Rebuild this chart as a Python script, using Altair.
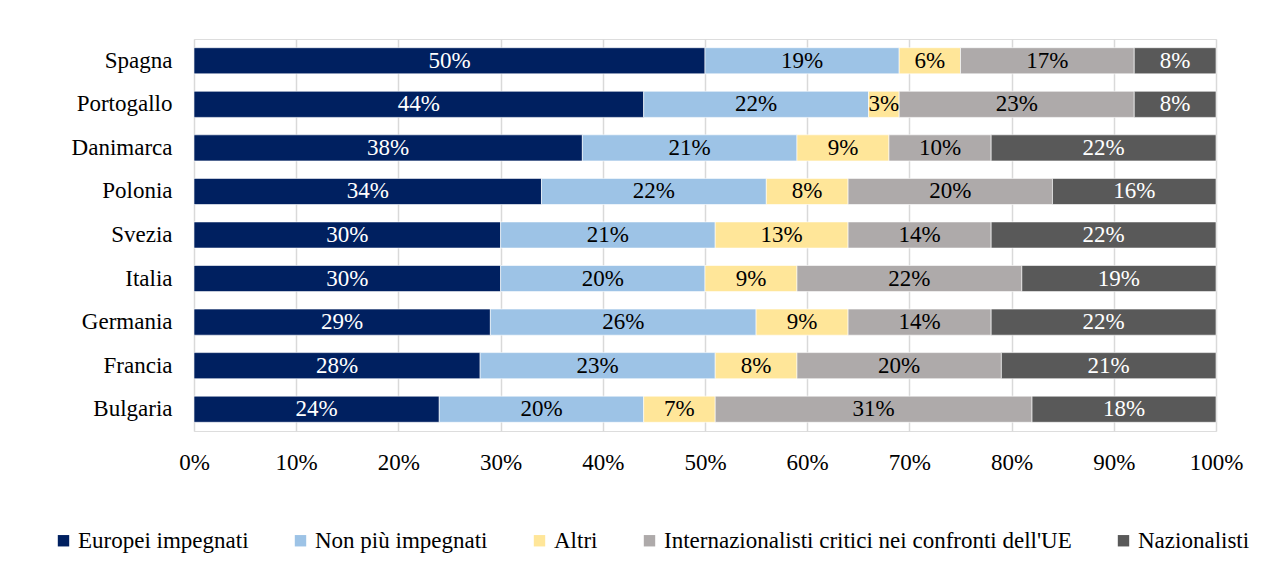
import altair as alt
import pandas as pd

countries = ["Spagna", "Portogallo", "Danimarca", "Polonia", "Svezia",
             "Italia", "Germania", "Francia", "Bulgaria"]
series = ["Europei impegnati", "Non più impegnati", "Altri",
          "Internazionalisti critici nei confronti dell'UE", "Nazionalisti"]
europei = [50, 44, 38, 34, 30, 30, 29, 28, 24]
non_piu = [19, 22, 21, 22, 21, 20, 26, 23, 20]
altri = [6, 3, 9, 8, 13, 9, 9, 8, 7]
internaz = [17, 23, 10, 20, 14, 22, 14, 20, 31]
nazional = [8, 8, 22, 16, 22, 19, 22, 21, 18]
colors = ["#002060", "#9DC3E6", "#FFE699", "#AEAAAA", "#595959"]
label_colors = ["white", "black", "black", "black", "white"]
x_ticks = [0, 10, 20, 30, 40, 50, 60, 70, 80, 90, 100]

rows = []
for vals, s, lc, k in zip([europei, non_piu, altri, internaz, nazional],
                          series, label_colors, range(5)):
    for c, v in zip(countries, vals):
        rows.append({"paese": c, "serie": s, "valore": v, "ord": k, "lc": lc})
df = pd.DataFrame(rows)

FONT = "Liberation Serif"
FS = 23

base = alt.Chart(df).transform_stack(
    stack="valore", groupby=["paese"], as_=["x0", "x1"],
    sort=[alt.SortField("ord", order="ascending")]
)

y_enc = alt.Y("paese:N", sort=countries, title=None,
              scale=alt.Scale(paddingInner=0.4, paddingOuter=0.2),
              axis=alt.Axis(labelFontSize=FS, labelColor="#000000", ticks=False,
                            domain=False, labelPadding=22, labelFont=FONT))

bars = base.mark_bar(stroke="white", strokeWidth=0.6).encode(
    x=alt.X("x0:Q", scale=alt.Scale(domain=[0, 100], nice=False), title=None,
            axis=alt.Axis(values=x_ticks, labelExpr="datum.value + '%'",
                          labelFontSize=FS, labelColor="#000000", ticks=False,
                          domain=False, labelPadding=20, grid=True, labelFlush=False,
                          gridColor="#D9D9D9", gridWidth=1.5, labelFont=FONT)),
    x2="x1:Q",
    y=y_enc,
    color=alt.Color("serie:N", sort=series,
                    scale=alt.Scale(domain=series, range=colors),
                    legend=alt.Legend(title=None, orient="none", direction="horizontal",
                                      legendX=-142, legendY=490,
                                      symbolType="square", symbolSize=130,
                                      symbolStrokeWidth=0, labelFontSize=FS,
                                      labelFont=FONT, labelColor="#000000",
                                      columnPadding=40, labelLimit=600,
                                      symbolOffset=0, labelOffset=3)),
    order=alt.Order("ord:Q"),
)

labels = base.transform_calculate(
    mid="(datum.x0 + datum.x1) / 2",
    txt="datum.valore + '%'"
).mark_text(fontSize=FS, font=FONT).encode(
    x=alt.X("mid:Q"),
    y=alt.Y("paese:N", sort=countries),
    text="txt:N",
    color=alt.Color("lc:N", scale=None),
)

chart = alt.layer(bars, labels).properties(
    width=1022, height=392,
    autosize=alt.AutoSizeParams(type="none"),
    padding={"left": 186, "top": 31, "right": 55, "bottom": 140},
).configure_view(stroke=None).configure(font=FONT).configure_legend(
    labelFont=FONT, labelFontSize=FS
)

chart.save("out.html", embed_options={"renderer": "svg", "actions": False})
